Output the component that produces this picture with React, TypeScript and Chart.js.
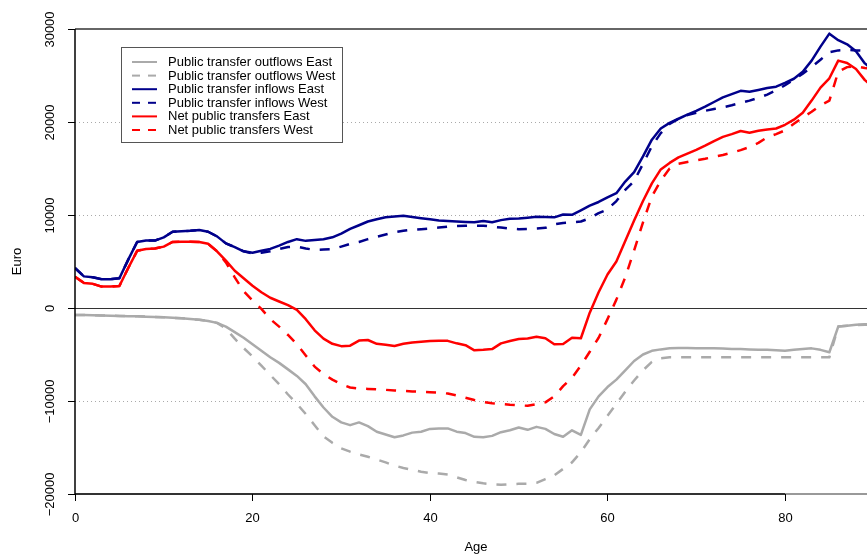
import React, { useEffect, useRef } from 'react';
import { Chart, registerables } from 'chart.js';

Chart.register(...registerables);

const ages = [
  0, 1, 2, 3, 4, 5, 6, 7, 8, 9, 10, 11, 12, 13, 14, 15, 16, 17, 18, 19,
  20, 21, 22, 23, 24, 25, 26, 27, 28, 29, 30, 31, 32, 33, 34, 35, 36, 37, 38, 39,
  40, 41, 42, 43, 44, 45, 46, 47, 48, 49, 50, 51, 52, 53, 54, 55, 56, 57, 58, 59,
  60, 61, 62, 63, 64, 65, 66, 67, 68, 69, 70, 71, 72, 73, 74, 75, 76, 77, 78, 79,
  80, 81, 82, 83, 84, 85, 86, 87, 88, 89, 90,
];

const outflowsEast = [
  -750, -760, -780, -800, -820, -850, -880, -900, -930, -960, -1000, -1050, -1100, -1180, -1270, -1400, -1600, -2000, -2600, -3200,
  -3900, -4600, -5300, -5900, -6600, -7300, -8200, -9500, -10700, -11700, -12300, -12600, -12300, -12700, -13300, -13600, -13900, -13700, -13400, -13300,
  -13000, -12950, -12950, -13300, -13450, -13850, -13900, -13750, -13350, -13150, -12850, -13100, -12780, -13000, -13550, -13850, -13150, -13650, -10900, -9500,
  -8500, -7700, -6700, -5700, -5000, -4600, -4450, -4330, -4300, -4300, -4320, -4330, -4330, -4350, -4400, -4420, -4450, -4480, -4500, -4550,
  -4590, -4500, -4420, -4340, -4500, -4760, -2000, -1900, -1800, -1750, -1700,
];

const outflowsWest = [
  -750, -760, -780, -800, -820, -850, -880, -900, -930, -960, -1000, -1050, -1100, -1180, -1270, -1400, -1600, -2200, -3300, -4300,
  -5200, -6200, -7200, -8200, -9300, -10300, -11400, -12600, -13800, -14500, -15100, -15450, -15750, -16000, -16300, -16600, -16950, -17200, -17400, -17600,
  -17750, -17800, -17900, -18200, -18500, -18700, -18850, -18950, -19000, -18950, -18900, -18900, -18800, -18400, -18000, -17300, -16600, -15500, -14100, -12900,
  -11600, -10300, -9000, -7800, -6700, -5800, -5400, -5300, -5300, -5300, -5300, -5300, -5300, -5300, -5300, -5300, -5300, -5300, -5300, -5300,
  -5300, -5300, -5300, -5300, -5300, -5300, -2000, -1900, -1850, -1800, -1800,
];

const inflowsEast = [
  4300, 3400, 3300, 3100, 3100, 3200, 5200, 7100, 7250, 7250, 7600, 8200, 8250, 8300, 8390, 8200, 7700, 6950, 6550, 6100,
  5950, 6150, 6350, 6700, 7100, 7400, 7220, 7300, 7400, 7600, 8000, 8500, 8900, 9300, 9550, 9750, 9850, 9920, 9780, 9650,
  9540, 9400, 9350, 9290, 9250, 9210, 9350, 9220, 9450, 9600, 9620, 9700, 9800, 9780, 9750, 10050, 10020, 10500, 11000, 11400,
  11900, 12350, 13600, 14600, 16300, 18100, 19300, 19900, 20350, 20800, 21200, 21650, 22150, 22650, 23000, 23350, 23260, 23450, 23650, 23800,
  24200, 24650, 25400, 26600, 28100, 29500, 28800, 28350, 27600, 26300, 25500,
];

const inflowsWest = [
  4300, 3400, 3300, 3100, 3100, 3200, 5200, 7100, 7250, 7250, 7600, 8200, 8250, 8300, 8390, 8200, 7700, 6950, 6550, 6100,
  5850, 5950, 6100, 6350, 6550, 6600, 6400, 6250, 6280, 6320, 6600, 6900, 7100, 7400, 7650, 7900, 8150, 8300, 8420, 8480,
  8550, 8650, 8750, 8820, 8850, 8850, 8850, 8750, 8650, 8550, 8480, 8500, 8550, 8620, 9000, 9150, 9200, 9300, 9650, 10200,
  10600, 11500, 12700, 13650, 15500, 17400, 18800, 19800, 20350, 20750, 21000, 21200, 21400, 21580, 21800, 22050, 22300, 22600, 22950, 23400,
  23950, 24550, 25200, 25900, 26700, 27500, 27700, 27750, 27700, 27650, 27600,
];

const netEast = [
  3370, 2700, 2600, 2300, 2300, 2370, 4300, 6150, 6350, 6400, 6600, 7100, 7130, 7130, 7100, 6900, 6100, 5100, 4000, 3200,
  2400, 1700, 1100, 700, 300, -200, -1200, -2400, -3300, -3850, -4100, -4050, -3500, -3440, -3850, -3950, -4080, -3850, -3700, -3620,
  -3550, -3520, -3530, -3800, -4000, -4550, -4500, -4420, -3800, -3550, -3330, -3270, -3100, -3250, -3900, -3870, -3200, -3250, -500, 1700,
  3600, 5000, 7200, 9400, 11500, 13400, 14900, 15600, 16200, 16600, 17000, 17450, 17950, 18400, 18700, 19030, 18850, 19050, 19200, 19300,
  19700, 20250, 21000, 22300, 23700, 24700, 26600, 26350, 25700, 24500, 23700,
];

const netWest = [
  3370, 2700, 2600, 2300, 2300, 2370, 4300, 6150, 6350, 6400, 6600, 7100, 7130, 7130, 7100, 6900, 6100, 4900, 3300, 1800,
  800, -100, -1200, -2000, -2900, -3900, -5100, -6300, -7100, -7700, -8200, -8550, -8650, -8700, -8750, -8800, -8870, -8920, -8970, -9000,
  -9050, -9100, -9200, -9400, -9650, -9900, -10100, -10250, -10320, -10400, -10450, -10520, -10350, -10150, -9500, -8400, -7500, -6200, -4700, -3200,
  -1200, 900, 3300, 6200, 9200, 12000, 13700, 15000, 15500, 15700, 15880, 16050, 16250, 16450, 16700, 16980, 17300, 17750, 18350, 18700,
  19100, 19800, 20500, 21100, 21800, 22300, 25400, 25900, 26000, 25800, 25700,
];

const xTicks = [0, 20, 40, 60, 80];
const yTicks = [-20000, -10000, 0, 10000, 20000, 30000];
const dottedLevels = [-10000, 10000, 20000];
const seriesLabels = [
  'Public transfer outflows East',
  'Public transfer outflows West',
  'Public transfer inflows East',
  'Public transfer inflows West',
  'Net public transfers East',
  'Net public transfers West',
];

const GREY = '#aaaaaa';
const BLUE = '#00008b';
const RED = '#ff0000';
const FONT = '"Liberation Sans", Arial, Helvetica, sans-serif';

const series = [
  { data: outflowsEast, color: GREY, dashed: false, order: 5 },
  { data: outflowsWest, color: GREY, dashed: true, order: 4 },
  { data: inflowsEast, color: BLUE, dashed: false, order: 3 },
  { data: inflowsWest, color: BLUE, dashed: true, order: 2 },
  { data: netEast, color: RED, dashed: false, order: 1 },
  { data: netWest, color: RED, dashed: true, order: 0 },
];

function hline(ctx: CanvasRenderingContext2D, x1: number, x2: number, y: number) {
  ctx.beginPath();
  ctx.moveTo(x1, y);
  ctx.lineTo(x2, y);
  ctx.stroke();
}

const decorPlugin = {
  id: 'decor',
  beforeDatasetsDraw(chart: any) {
    const { ctx, chartArea: a, scales } = chart;
    const y = scales.y;
    ctx.save();
    ctx.strokeStyle = '#aaaaaa';
    ctx.lineWidth = 1;
    ctx.setLineDash([1, 3]);
    for (const v of dottedLevels) {
      const py = Math.round(y.getPixelForValue(v)) + 0.5;
      hline(ctx, a.left, a.right, py);
    }
    ctx.setLineDash([]);
    // zero line
    ctx.strokeStyle = '#333333';
    ctx.lineWidth = 1;
    hline(ctx, a.left, a.right, Math.round(y.getPixelForValue(0)) + 0.5);
    // top line
    ctx.strokeStyle = '#333333';
    ctx.lineWidth = 1.5;
    hline(ctx, a.left, a.right, y.getPixelForValue(30000));
    // bottom grey line
    ctx.strokeStyle = '#999999';
    ctx.lineWidth = 2;
    hline(ctx, a.left, a.right, y.getPixelForValue(-20000));
    ctx.restore();
  },
  afterDatasetsDraw(chart: any) {
    const { ctx, chartArea: a, scales } = chart;
    const x = scales.x;
    const y = scales.y;
    ctx.save();
    // bottom axis line
    const yb = y.getPixelForValue(-20000);
    ctx.strokeStyle = '#333333';
    ctx.lineWidth = 2;
    hline(ctx, x.getPixelForValue(xTicks[0]), x.getPixelForValue(xTicks[xTicks.length - 1]), yb);
    // left axis
    ctx.strokeStyle = '#000000';
    ctx.lineWidth = 1.5;
    ctx.beginPath();
    ctx.moveTo(a.left, y.getPixelForValue(30000));
    ctx.lineTo(a.left, yb);
    ctx.stroke();
    // ticks
    ctx.lineWidth = 1;
    ctx.fillStyle = '#000000';
    ctx.font = `13px ${FONT}`;
    ctx.textAlign = 'center';
    ctx.textBaseline = 'middle';
    for (const t of xTicks) {
      const px = Math.round(x.getPixelForValue(t)) + 0.5;
      ctx.beginPath();
      ctx.moveTo(px, yb);
      ctx.lineTo(px, yb + 7);
      ctx.stroke();
      ctx.fillText(String(t), px, yb + 24);
    }
    for (const t of yTicks) {
      const py = Math.round(y.getPixelForValue(t)) + 0.5;
      ctx.beginPath();
      ctx.moveTo(a.left - 7, py);
      ctx.lineTo(a.left, py);
      ctx.stroke();
      ctx.save();
      ctx.translate(a.left - 25, py);
      ctx.rotate(-Math.PI / 2);
      ctx.fillText(String(t).replace('-', '\u2212'), 0, 0);
      ctx.restore();
    }
    // axis titles
    ctx.fillText('Age', 476, 547);
    ctx.save();
    ctx.translate(17, (y.getPixelForValue(30000) + yb) / 2);
    ctx.rotate(-Math.PI / 2);
    ctx.fillText('Euro', 0, 0);
    ctx.restore();
    // legend
    ctx.fillStyle = '#ffffff';
    ctx.fillRect(121, 47, 221, 96);
    ctx.strokeStyle = '#555555';
    ctx.lineWidth = 1;
    ctx.strokeRect(121.5, 47.5, 221, 95);
    ctx.textAlign = 'left';
    ctx.font = `13px ${FONT}`;
    series.forEach((s, i) => {
      const ry = 62 + i * 13.6;
      ctx.strokeStyle = s.color;
      ctx.lineWidth = 2;
      ctx.setLineDash(s.dashed ? [8, 8] : []);
      hline(ctx, 132, 157, ry);
      ctx.setLineDash([]);
      ctx.fillStyle = '#000000';
      ctx.fillText(seriesLabels[i], 168, ry + 0.5);
    });
    ctx.restore();
  },
};

export default function App() {
  const ref = useRef<HTMLCanvasElement>(null);
  useEffect(() => {
    if (!ref.current) return;
    const chart = new Chart(ref.current, {
      type: 'line',
      data: {
        datasets: series.map((s, i) => ({
          label: seriesLabels[i],
          data: ages.map((a, j) => ({ x: a, y: s.data[j] })),
          borderColor: s.color,
          backgroundColor: s.color,
          borderWidth: 2.5,
          borderDash: s.dashed ? [10, 10] : [],
          borderJoinStyle: 'round',
          pointRadius: 0,
          tension: 0,
          fill: false,
          order: s.order,
        })),
      },
      options: {
        animation: false,
        responsive: false,
        events: [],
        layout: { padding: { top: 29, right: 0, left: 0, bottom: 0 } },
        plugins: { legend: { display: false }, tooltip: { enabled: false } },
        scales: {
          x: {
            type: 'linear',
            min: 0,
            max: 89.24,
            grid: { display: false },
            border: { display: false },
            ticks: { display: false },
            afterFit: (s: any) => { s.height = 61; },
          },
          y: {
            type: 'linear',
            min: -20000,
            max: 30000,
            grid: { display: false },
            border: { display: false },
            ticks: { display: false },
            afterFit: (s: any) => { s.width = 75; },
          },
        },
      },
      plugins: [decorPlugin],
    } as any);
    return () => chart.destroy();
  }, []);
  return (
    <div style={{ position: 'fixed', left: 0, top: 0, width: 867, height: 555, background: '#fff' }}>
      <canvas ref={ref} width={867} height={555} />
    </div>
  );
}
